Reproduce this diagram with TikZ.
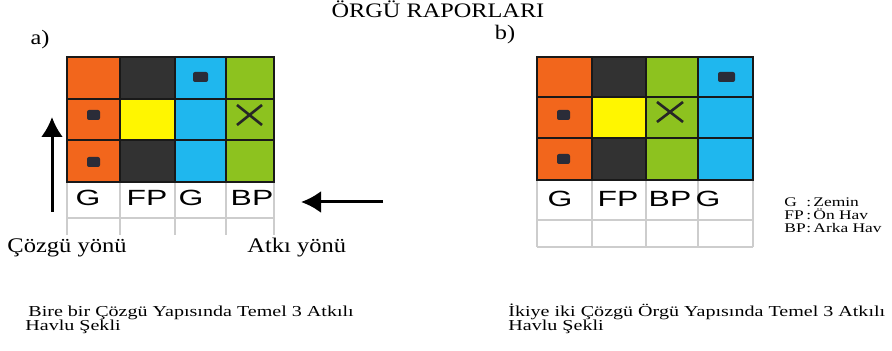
\documentclass[tikz,border=0pt]{standalone}
\usepackage{fontspec}
\setmainfont[FakeStretch=1.18]{Liberation Serif}
\newfontfamily\capfont[FakeStretch=1.32]{Liberation Serif}
\newfontfamily\cellfont[FakeStretch=1.45]{Liberation Sans}
\usetikzlibrary{arrows.meta}
\definecolor{orng}{HTML}{F2661C}
\definecolor{dgray}{HTML}{323232}
\definecolor{cyn}{HTML}{1FB7EE}
\definecolor{grn}{HTML}{8DC21F}
\definecolor{ylw}{HTML}{FFF600}
\definecolor{gline}{HTML}{CDCDCD}
\definecolor{dot}{HTML}{2A2C38}

\begin{document}
\begin{tikzpicture}[x=0.5pt,y=-0.5pt,
        cellline/.style={draw=black!90, line width=0.9pt},
        frame/.style={draw=black!90, line width=1.3pt},
        gridgray/.style={draw=gline, line width=0.8pt},
        pip/.style={fill=dot, rounded corners=1pt},
        cross/.style={draw=black!85, line width=1.3pt},
        dirarrow/.style={line width=1.5pt, -{Latex[length=10pt,width=11pt]}},
        cellname/.style={inner sep=0pt, font=\cellfont\fontsize{11}{13}\selectfont},
        serif/.style={inner sep=0pt},
        caption/.style={inner sep=0pt, font=\capfont\fontsize{7.6}{9}\selectfont},
        legend/.style={inner sep=0pt, font=\capfont\fontsize{6.6}{8}\selectfont}]
        \useasboundingbox (0,0) rectangle (892,351);
        % a) colours
        \fill [orng]  (67,57)  rectangle (120,182);
        \fill [dgray] (120,57) rectangle (175,182);
        \fill [ylw]   (120,99) rectangle (175,140);
        \fill [cyn]   (175,57) rectangle (226,182);
        \fill [grn]   (226,57) rectangle (274,182);
        \foreach \x in {67,120,175,226,274}
            \draw [gridgray] (\x,182) -- (\x,235);
        \draw [gridgray] (67,218) -- (274,218);
        \foreach \y in {99,140}
            \draw [cellline] (67,\y) -- (274,\y);
        \foreach \x in {120,175,226}
            \draw [cellline] (\x,57) -- (\x,182);
        \draw [frame] (67,57) rectangle (274,182);
        \fill [pip] (193,72) rectangle (208,82);
        \fill [pip] (87,110) rectangle (100,120);
        \fill [pip] (87,157) rectangle (100,167);
        \draw [cross] (237,105) -- (262,125);
        \draw [cross] (237,125) -- (262,105);
        % b) colours
        \fill [orng]  (537,57)  rectangle (592,180);
        \fill [dgray] (592,57)  rectangle (646,180);
        \fill [ylw]   (592,97)  rectangle (646,138);
        \fill [grn]   (646,57)  rectangle (698,180);
        \fill [cyn]   (698,57)  rectangle (753,180);
        \foreach \x in {537,592,646,698,753}
            \draw [gridgray] (\x,180) -- (\x,247);
        \draw [gridgray] (537,220) -- (753,220);
        \draw [gridgray] (537,247) -- (753,247);
        \foreach \y in {97,138}
            \draw [cellline] (537,\y) -- (753,\y);
        \foreach \x in {592,646,698}
            \draw [cellline] (\x,57) -- (\x,180);
        \draw [frame] (537,57) rectangle (753,180);
        \fill [pip] (718,72) rectangle (735,82);
        \fill [pip] (557,110) rectangle (570,120);
        \fill [pip] (557,154) rectangle (570,164);
        \draw [cross] (657,102) -- (683,122);
        \draw [cross] (657,122) -- (683,102);
        % cell names
        \node [cellname, anchor=base] (ga1) at (88,206)  {G};
        \node [cellname, anchor=base] (fpa) at (147,206) {FP};
        \node [cellname, anchor=base] (ga2) at (191,206) {G};
        \node [cellname, anchor=base] (bpa) at (252,206) {BP};
        \node [cellname, anchor=base] (gb1) at (560,207) {G};
        \node [cellname, anchor=base] (fpb) at (618,207) {FP};
        \node [cellname, anchor=base] (bpb) at (670,207) {BP};
        \node [cellname, anchor=base] (gb2) at (708,207) {G};
        % directions
        \coordinate (warpfoot) at (52,212);
        \coordinate (warptip)  at (52,117);
        \coordinate (weftfoot) at (383,202);
        \coordinate (wefttip)  at (301,202);
        \draw [dirarrow] (warpfoot) -- (warptip);
        \draw [dirarrow] (weftfoot) -- (wefttip);
        % texts
        \node [serif, anchor=base] (title) at (438,18) {\fontsize{10.3}{12}\selectfont ÖRGÜ RAPORLARI};
        \node [serif, anchor=base] (tagA) at (40,45) {\fontsize{10.3}{12}\selectfont a)};
        \node [serif, anchor=base] (tagB) at (505,40) {\fontsize{10.3}{12}\selectfont b)};
        \node [serif, anchor=base west] (warpname) at (7,253) {\fontsize{10.4}{12}\selectfont Çözgü yönü};
        \node [serif, anchor=base west] (weftname) at (247,253) {\fontsize{10.4}{12}\selectfont Atkı yönü};
        \node [caption, anchor=base west] (capA1) at (28,317) {Bire bir Çözgü Yapısında Temel 3 Atkılı};
        \node [caption, anchor=base west] (capA2) at (25,331) {Havlu Şekli};
        \node [caption, anchor=base west] (capB1) at (508,317) {İkiye iki Çözgü Örgü Yapısında Temel 3 Atkılı};
        \node [caption, anchor=base west] (capB2) at (508,331) {Havlu Şekli};
        % legend
        \foreach \k/\v/\y in {G/Zemin/207, FP/Ön Hav/220, BP/Arka Hav/233} {
            \node [legend, anchor=base west] (key\k) at (784,\y) {\k};
            \node [legend, anchor=base west] (val\k) at (806,\y) {:\,\v};
        }
    \end{tikzpicture}
\end{document}
